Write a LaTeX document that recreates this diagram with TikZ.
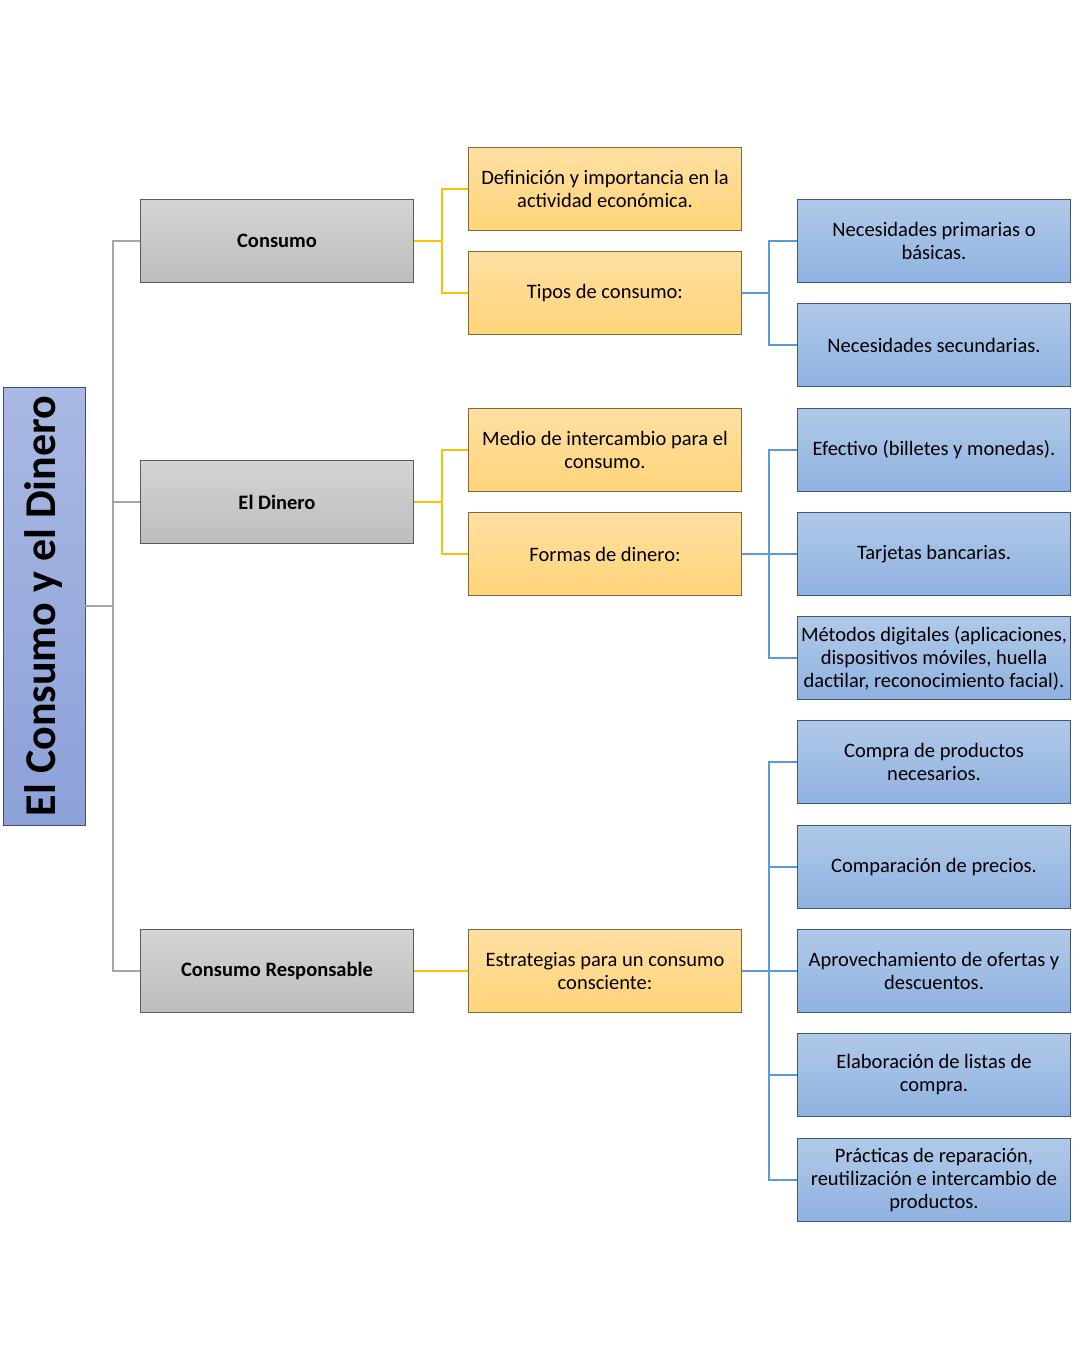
\documentclass[tikz,border=0pt]{standalone}
\usepackage{fontspec}
\setmainfont{Carlito}
\usepackage{graphicx}

\definecolor{rootedge}{HTML}{3F4A80}
\definecolor{roottop}{HTML}{AAB9E3}
\definecolor{rootbot}{HTML}{8CA1D9}
\definecolor{grayedge}{HTML}{5A5A5A}
\definecolor{graytop}{HTML}{D4D4D4}
\definecolor{graybot}{HTML}{BDBDBD}
\definecolor{orangeedge}{HTML}{7F6A3A}
\definecolor{orangetop}{HTML}{FFDFA2}
\definecolor{orangebot}{HTML}{FFD479}
\definecolor{blueedge}{HTML}{3F5878}
\definecolor{bluetop}{HTML}{B1C9E9}
\definecolor{bluebot}{HTML}{8FB2E0}
\definecolor{grayline}{HTML}{A6A6A6}
\definecolor{orangeline}{HTML}{FFC000}
\definecolor{blueline}{HTML}{5B9BD5}

\tikzset{
  box/.style={draw, line width=0.8pt, minimum width=273pt, minimum height=83pt,
    text width=271pt, inner sep=1pt, align=flush center,
    font=\fontsize{20.5}{23}\selectfont},
  rootbox/.style={draw=rootedge, line width=0.8pt, top color=roottop, bottom color=rootbot,
    minimum width=82pt, minimum height=438pt, inner sep=0pt},
  graybox/.style={box, draw=grayedge, top color=graytop, bottom color=graybot,
    font=\fontsize{20.5}{23}\selectfont\bfseries},
  orangebox/.style={box, draw=orangeedge, top color=orangetop, bottom color=orangebot},
  bluebox/.style={box, draw=blueedge, top color=bluetop, bottom color=bluebot},
  grayconn/.style={grayline, line width=2pt},
  orangeconn/.style={orangeline, line width=2pt},
  blueconn/.style={blueline, line width=2pt}
}

\newcommand{\gn}{\node[graybox]}
\newcommand{\on}{\node[orangebox]}
\newcommand{\bn}{\node[bluebox]}

\begin{document}
\begin{tikzpicture}[x=1pt, y=-1pt]
            \useasboundingbox (0,0) rectangle (1088,1369);

            \node[rootbox] (root) at (44,606)
                {\rotatebox{90}{\fontsize{44}{52}\selectfont\bfseries El Consumo y el Dinero}};

            \gn (consumo) at (277,241) {Consumo};
            \gn (dinero) at (277,502) {El Dinero};
            \gn (respons) at (277,971) {Consumo Responsable};

            \on (defin) at (605,189) {Definición y importancia en la actividad económica.};
            \on (tipos) at (605,293) {Tipos de consumo:};
            \on (medio) at (605,450) {Medio de intercambio para el consumo.};
            \on (formas) at (605,554) {Formas de dinero:};
            \on (estrat) at (605,971) {Estrategias para un consumo consciente:};

            \bn (primar) at (934,241) {Necesidades primarias o\\ básicas.};
            \bn (secund) at (934,345) {Necesidades secundarias.};
            \bn (efect) at (934,450) {Efectivo (billetes y monedas).};
            \bn (tarjet) at (934,554) {Tarjetas bancarias.};
            \bn (digit) at (934,658) {Métodos digitales (aplicaciones, dispositivos móviles, huella dactilar, reconocimiento facial).};
            \bn (compra) at (934,762) {Compra de productos necesarios.};
            \bn (compar) at (934,867) {Comparación de precios.};
            \bn (ofert) at (934,971) {Aprovechamiento de ofertas y descuentos.};
            \bn (listas) at (934,1075) {Elaboración de listas de\\ compra.};
            \bn (repar) at (934,1180) {Prácticas de reparación, reutilización e intercambio de productos.};

            % tronco
            \draw[grayconn]
                (root.east) -- +(28,0) |- (consumo.west)
                (root.east) -- +(28,0) |- (dinero.west)
                (root.east) -- +(28,0) |- (respons.west)
                ;

            \draw[orangeconn]
                (consumo.east) -- +(28,0) |- (defin.west)
                (consumo.east) -- +(28,0) |- (tipos.west)
                (dinero.east) -- +(28,0) |- (medio.west)
                (dinero.east) -- +(28,0) |- (formas.west)
                (respons.east) -- (estrat.west)
                ;

            \draw[blueconn]
                (tipos.east) -- +(27,0) |- (primar.west)
                (tipos.east) -- +(27,0) |- (secund.west)
                (formas.east) -- +(27,0) |- (efect.west)
                (formas.east) -- +(27,0) |- (tarjet.west)
                (formas.east) -- +(27,0) |- (digit.west)
                (estrat.east) -- +(27,0) |- (compra.west)
                (estrat.east) -- +(27,0) |- (compar.west)
                (estrat.east) -- +(27,0) |- (ofert.west)
                (estrat.east) -- +(27,0) |- (listas.west)
                (estrat.east) -- +(27,0) |- (repar.west)
                ;
\end{tikzpicture}
\end{document}
